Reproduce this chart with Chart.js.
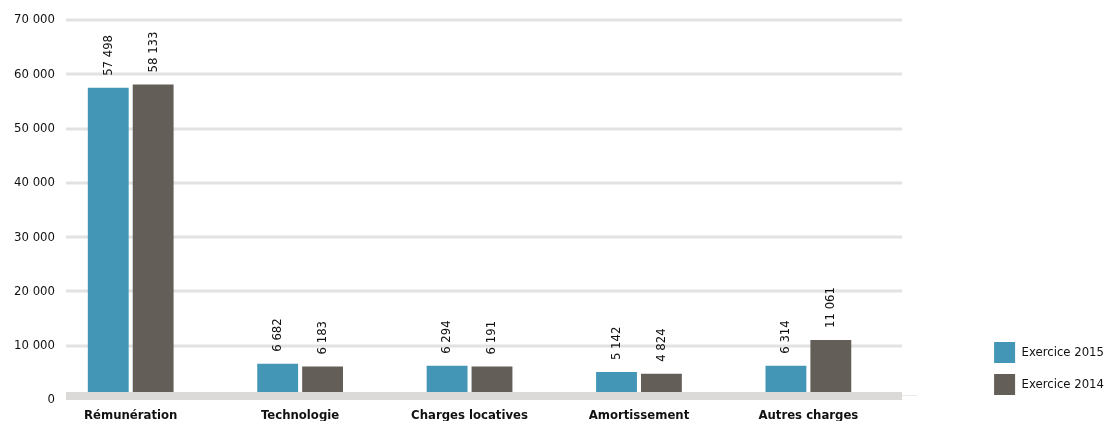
<!DOCTYPE html>
<html lang="fr">
<head>
<meta charset="utf-8">
<title>Charges par catégorie</title>
<script src="https://cdn.jsdelivr.net/npm/chart.js@4/dist/chart.umd.min.js"></script>
<style>
  html, body { margin: 0; padding: 0; background: #fff; }
  #wrap { width: 1110px; height: 421px; }
</style>
</head>
<body>
<div id="wrap"><canvas id="charges"></canvas></div>
<script>
// charges d'exploitation, en milliers
const categories = ['Rémunération', 'Technologie', 'Charges locatives', 'Amortissement', 'Autres charges'];
const exercice2015 = [57498, 6682, 6294, 5142, 6314];
const exercice2014 = [58133, 6183, 6191, 4824, 11061];
const seriesNames = ['Exercice 2015', 'Exercice 2014'];
const yTicks = [0, 10000, 20000, 30000, 40000, 50000, 60000, 70000];

const FONT = '"DejaVu Sans Condensed", "Liberation Sans Narrow", sans-serif';
const BLUE = '#4396b5';
const GREY = '#645e59';

function fmt(n){ return String(n).replace(/\B(?=(\d{3})+(?!\d))/g, ' '); }

// rules + y labels drawn by hand so they can sit left of the bars area
const rules = {
    id: 'rules',
    afterLayout(chart){
        // lift the legend a little off the bottom edge
        chart.legend.top -= 15;
        chart.legend.bottom -= 15;
    },
    beforeDatasetsDraw(chart){
        const { ctx, chartArea: a, scales: { y } } = chart;
        ctx.save();
        ctx.strokeStyle = '#e2e2e2';
        ctx.lineWidth = 3;
        yTicks.slice(1).forEach(v => {
            const py = Math.round(y.getPixelForValue(v));
            ctx.beginPath();
            ctx.moveTo(a.left + 20, py);
            ctx.lineTo(a.right + 9, py);
            ctx.stroke();
        });
        ctx.fillStyle = '#111';
        ctx.font = '13px ' + FONT;
        ctx.textAlign = 'right';
        ctx.textBaseline = 'middle';
        yTicks.forEach(v => ctx.fillText(fmt(v), a.left + 9, y.getPixelForValue(v)));
        ctx.restore();
    },
    afterDatasetsDraw(chart){
        const { ctx, chartArea: a, scales: { y } } = chart;
        const y0 = y.getPixelForValue(0);
        ctx.save();
        // base band
        ctx.fillStyle = '#dcdad8';
        ctx.fillRect(a.left + 20, y0 - 8, a.right + 9 - (a.left + 20), 8);
        ctx.strokeStyle = '#ebebeb';
        ctx.lineWidth = 1;
        ctx.beginPath();
        ctx.moveTo(a.right + 9, y0 - 4.5);
        ctx.lineTo(a.right + 24, y0 - 4.5);
        ctx.stroke();
        // vertical value labels
        ctx.fillStyle = '#111';
        ctx.font = '13px ' + FONT;
        ctx.textAlign = 'left';
        ctx.textBaseline = 'middle';
        chart.data.datasets.forEach((ds, i) => {
            chart.getDatasetMeta(i).data.forEach((bar, j) => {
                ctx.save();
                ctx.translate(bar.x, bar.y - 12);
                ctx.rotate(-Math.PI / 2);
                ctx.fillText(fmt(ds.data[j]), 0, 0);
                ctx.restore();
            });
        });
        ctx.restore();
    }
};

const barOpts = { categoryPercentage: 0.53, barPercentage: 0.91 };

new Chart(document.getElementById('charges'), {
    type: 'bar',
    data: {
        labels: categories,
        datasets: [
            { label: seriesNames[0], data: exercice2015, backgroundColor: BLUE, ...barOpts },
            { label: seriesNames[1], data: exercice2014, backgroundColor: GREY, ...barOpts }
        ]
    },
    options: {
        responsive: true,
        maintainAspectRatio: false,
        animation: false,
        layout: { padding: { top: 20, right: -4 } },
        plugins: {
            tooltip: { enabled: false },
            legend: {
                position: 'right',
                align: 'end',
                labels: {
                    boxWidth: 21,
                    boxHeight: 21,
                    padding: 11,
                    color: '#111',
                    font: { family: FONT, size: 13 }
                }
            }
        },
        scales: {
            x: {
                grid: { display: false, drawTicks: false },
                border: { display: false },
                ticks: { color: '#111', padding: 8, maxRotation: 0, font: { family: FONT, size: 13, weight: 'bold' } },
                afterFit: s => { s.height = 21; }
            },
            y: {
                min: 0,
                max: 70000,
                grid: { display: false, drawTicks: false },
                border: { display: false },
                ticks: { display: false, stepSize: 10000 },
                afterFit: s => { s.width = 46; }
            },
            // empty right-hand axis, keeps the legend apart from the bars
            y2: {
                position: 'right',
                display: true,
                grid: { display: false },
                border: { display: false },
                ticks: { display: false },
                afterFit: s => { s.width = 90; }
            }
        }
    },
    plugins: [rules]
});
</script>
</body>
</html>
